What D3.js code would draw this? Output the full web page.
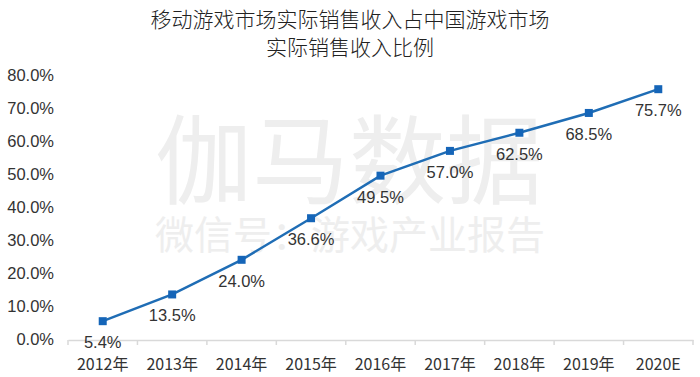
<!DOCTYPE html>
<html><head><meta charset="utf-8">
<script src="https://cdn.jsdelivr.net/npm/d3@7"></script>
<style>body{margin:0;background:#fff}svg{display:block}</style>
</head><body>
<svg id="c" width="700" height="377"></svg>
<script>
const categories = ["2012年","2013年","2014年","2015年","2016年","2017年","2018年","2019年","2020E"];
const values = [5.4, 13.5, 24.0, 36.6, 49.5, 57.0, 62.5, 68.5, 75.7];
const yTicks = [0,10,20,30,40,50,60,70,80];
const titleLines = ["移动游戏市场实际销售收入占中国游戏市场","实际销售收入比例"];
const watermark = ["伽马数据","微信号：游戏产业报告"];

const svg = d3.select("#c");
const font = "'Noto Sans CJK SC','Liberation Sans',Arial,sans-serif";
const x = d3.scaleBand().domain(categories).range([68, 693]);
const y = d3.scaleLinear().domain([0, 80]).range([339, 75]);

// watermark
svg.append("text").attr("x",349).attr("y",196).attr("text-anchor","middle")
  .attr("font-family",font).attr("font-size",97).attr("fill","#eeeeee")
  .attr("textLength",388).text(watermark[0]);
svg.append("text").attr("x",350).attr("y",249).attr("text-anchor","middle")
  .attr("font-family",font).attr("font-size",39).attr("fill","#eeeeee")
  .attr("textLength",390).text(watermark[1]);

// title
svg.selectAll("text.title").data(titleLines).enter().append("text")
  .attr("class","title").attr("x",350).attr("y",(d,i)=>27+i*28)
  .attr("text-anchor","middle").attr("font-family",font).attr("font-size",21)
  .attr("font-weight",300).attr("fill","#222").text(d=>d);

// x axis
const xa = svg.append("g").attr("transform","translate(0,340)")
  .call(d3.axisBottom(x).tickSize(0).tickPadding(19));
xa.select(".domain").attr("stroke","#d9d9d9").attr("stroke-width",1.5);
xa.selectAll("text").attr("font-family",font).attr("font-size",16).attr("fill","#333");
xa.selectAll(".sep").data(d3.range(categories.length+1)).enter().append("line")
  .attr("x1",i=>x.range()[0]+i*x.step()).attr("x2",i=>x.range()[0]+i*x.step())
  .attr("y1",0).attr("y2",5).attr("stroke","#d9d9d9").attr("stroke-width",1.5);

// y axis
const ya = svg.append("g").attr("transform","translate(54,0)")
  .call(d3.axisLeft(y).tickValues(yTicks).tickSize(0).tickPadding(0).tickFormat(d=>d.toFixed(1)+"%"));
ya.select(".domain").remove();
ya.selectAll("text").attr("font-family","'Liberation Sans',Arial,sans-serif").attr("font-size",16.5).attr("fill","#333");

// line
const cx = (d,i)=>x(categories[i])+x.bandwidth()/2;
svg.append("path").datum(values)
  .attr("d", d3.line().x(cx).y(d=>y(d)))
  .attr("fill","none").attr("stroke","#1f6db5").attr("stroke-width",2.5);
svg.selectAll("rect.m").data(values).enter().append("rect")
  .attr("x",(d,i)=>cx(d,i)-4).attr("y",d=>y(d)-4).attr("width",8).attr("height",8)
  .attr("fill","#1565b8");
svg.selectAll("text.lbl").data(values).enter().append("text")
  .attr("x",cx).attr("y",d=>y(d)+27).attr("text-anchor","middle")
  .attr("font-family","'Liberation Sans',Arial,sans-serif").attr("font-size",16.5).attr("fill","#333")
  .text(d=>d.toFixed(1)+"%");
</script>
</body></html>
